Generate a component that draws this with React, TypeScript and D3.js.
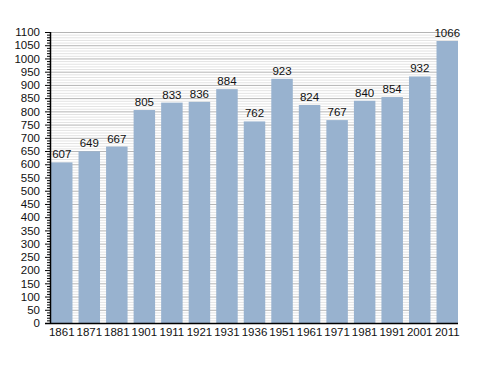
import React, { useEffect, useRef } from "react";
import * as d3 from "d3";

const years = ["1861", "1871", "1881", "1901", "1911", "1921", "1931", "1936", "1951", "1961", "1971", "1981", "1991", "2001", "2011"];
const population = [607, 649, 667, 805, 833, 836, 884, 762, 923, 824, 767, 840, 854, 932, 1066];

const App = () => {
	const svgRef = useRef(null);

	useEffect(() => {
		const svg = d3.select(svgRef.current);
		svg.selectAll("*").remove();

		const left = 50;
		const right = 458;
		const top = 32;
		const bottom = 323;
		const font = "Liberation Sans, Arial, sans-serif";

		const x = d3.scaleBand().domain(years).range([left + 1, right]).paddingInner(0.22).paddingOuter(0);
		const y = d3.scaleLinear().domain([0, 1100]).range([bottom, top]);

		const g = svg.append("g");

		// minor grid every 10
		g.selectAll(".minor")
			.data(d3.range(0, 1101, 10).filter((v) => v % 50 !== 0))
			.enter()
			.append("line")
			.attr("x1", left)
			.attr("x2", right)
			.attr("y1", (d) => y(d) + 0.5)
			.attr("y2", (d) => y(d) + 0.5)
			.attr("stroke", "#e3e3e3")
			.attr("stroke-width", 1);

		// major grid every 50
		g.selectAll(".major")
			.data(d3.range(50, 1101, 50))
			.enter()
			.append("line")
			.attr("x1", left)
			.attr("x2", right)
			.attr("y1", (d) => y(d) + 0.5)
			.attr("y2", (d) => y(d) + 0.5)
			.attr("stroke", "#b4b4b4")
			.attr("stroke-width", 1);

		// bars
		g.selectAll("rect")
			.data(population)
			.enter()
			.append("rect")
			.attr("x", (d, i) => x(years[i]))
			.attr("y", (d) => y(d))
			.attr("width", x.bandwidth())
			.attr("height", (d) => bottom - y(d))
			.attr("fill", "#98b2cf");

		// value labels
		g.selectAll(".val")
			.data(population)
			.enter()
			.append("text")
			.attr("x", (d, i) => x(years[i]) + x.bandwidth() / 2)
			.attr("y", (d) => y(d) - 4)
			.attr("text-anchor", "middle")
			.attr("font-family", font)
			.attr("font-size", 11.5)
			.attr("fill", "#111")
			.text((d) => d);

		// y axis
		const yAxis = svg.append("g").attr("transform", `translate(${left},0)`);
		yAxis
			.call(d3.axisLeft(y).tickValues(d3.range(0, 1101, 50)).tickFormat(d3.format("d")).tickSize(5).tickPadding(5))
			.call((a) => a.select(".domain").remove());
		yAxis.selectAll("text").attr("font-family", font).attr("font-size", 11.5).attr("fill", "#111");
		yAxis.selectAll(".tick line").attr("stroke", "#000");
		yAxis
			.selectAll(".mtick")
			.data(d3.range(0, 1101, 10).filter((v) => v % 50 !== 0))
			.enter()
			.append("line")
			.attr("x1", -3)
			.attr("x2", 0)
			.attr("y1", (d) => y(d) + 0.5)
			.attr("y2", (d) => y(d) + 0.5)
			.attr("stroke", "#000");
		yAxis
			.append("line")
			.attr("x1", 0.5)
			.attr("x2", 0.5)
			.attr("y1", top)
			.attr("y2", bottom + 1)
			.attr("stroke", "#000")
			.attr("stroke-width", 1.5);

		// x axis
		const xAxis = svg.append("g").attr("transform", `translate(0,${bottom})`);
		xAxis.call(d3.axisBottom(x).tickSize(0).tickPadding(5)).call((a) => a.select(".domain").remove());
		xAxis.selectAll("text").attr("font-family", font).attr("font-size", 11.5).attr("fill", "#111");
		xAxis
			.append("line")
			.attr("x1", left - 5)
			.attr("x2", right)
			.attr("y1", 0.5)
			.attr("y2", 0.5)
			.attr("stroke", "#000")
			.attr("stroke-width", 1.5);
	}, []);

	return (
		<div style={{ position: "absolute", left: 0, top: 0 }}>
			<svg ref={svgRef} width={488} height={373} style={{ display: "block", background: "#fff" }}></svg>
		</div>
	);
};

export default App;
